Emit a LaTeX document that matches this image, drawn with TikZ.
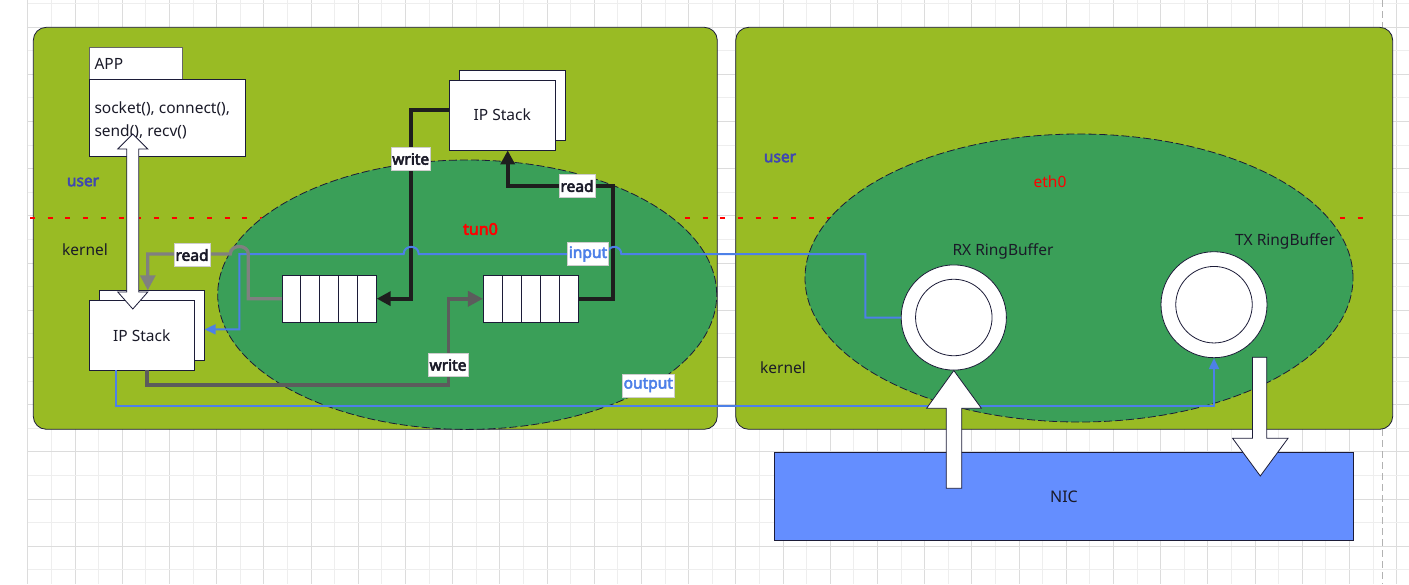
\documentclass[tikz,border=0pt]{standalone}
\usepackage{fontspec}
\setmainfont{Noto Sans}[AutoFakeBold=3.5]
\usetikzlibrary{arrows.meta,shapes.geometric,calc}
\definecolor{panelgreen}{RGB}{153,187,36}
\definecolor{ellgreen}{RGB}{58,159,88}
\definecolor{navy}{RGB}{28,28,56}
\definecolor{linkblue}{RGB}{77,128,232}
\definecolor{userblue}{RGB}{64,72,176}
\definecolor{nicblue}{RGB}{100,142,255}
\definecolor{gridlight}{RGB}{238,238,238}
\definecolor{griddark}{RGB}{220,220,220}
\definecolor{txt}{RGB}{26,26,40}
\definecolor{lblborder}{RGB}{205,205,205}
\definecolor{readgray}{RGB}{128,128,128}
\definecolor{writegray}{RGB}{92,92,92}
\definecolor{blk}{RGB}{30,30,30}
\begin{document}
\begin{tikzpicture}[x=1pt,y=-1pt,
  every node/.style={font=\fontsize{15.5}{18}\selectfont, text=txt},
  panel/.style={draw=navy, fill=panelgreen, rounded corners=13pt, line width=0.8pt},
  ifellipse/.style={ellipse, draw=navy, fill=ellgreen, line width=0.8pt, dash pattern=on 8pt off 3pt, inner sep=0pt},
  wbox/.style={draw=navy, fill=white, line width=0.8pt, inner sep=0pt},
  lbl/.style={fill=white, draw=lblborder, line width=0.4pt, inner xsep=1.5pt, inner ysep=0pt, minimum height=23pt, font=\bfseries\fontsize{15.5}{18}\selectfont},
  blkline/.style={draw=blk, line width=4pt, -{Triangle[length=14pt,width=14pt]}},
  grayread/.style={draw=readgray, line width=3.3pt, -{Triangle[length=15pt,width=15pt]}},
  graywrite/.style={draw=writegray, line width=3.5pt, -{Triangle[length=15pt,width=15pt]}},
  blueline/.style={draw=linkblue, line width=2pt, -{Triangle[length=11pt,width=10pt]}},
  bigarrow/.style={fill=white, draw=navy, line width=0.8pt},
  ring/.style={circle, draw=navy, fill=white, line width=0.8pt, inner sep=0pt}
]
\useasboundingbox (0,0) rectangle (1409,584);
\fill[white] (0,0) rectangle (1409,584);
% grid
\foreach \k in {1,3,...,57} \draw[gridlight, line width=0.8pt] ({27.7+23.6*\k},0) -- ({27.7+23.6*\k},584);
\foreach \k in {0,2,...,58} \draw[griddark, line width=0.8pt] ({27.7+23.6*\k},0) -- ({27.7+23.6*\k},584);
\foreach \k in {0,2,...,24} \draw[gridlight, line width=0.8pt] (27.7,{3.3+23.6*\k}) -- (1409,{3.3+23.6*\k});
\foreach \k in {1,3,...,23} \draw[griddark, line width=0.8pt] (27.7,{3.3+23.6*\k}) -- (1409,{3.3+23.6*\k});
\draw[gray!60, line width=1pt, dash pattern=on 7pt off 4pt] (1382.3,0) -- (1382.3,584);

% panels
\draw[panel] (33.3,27.3) rectangle (717.3,429.3);
\draw[panel] (735.7,27.3) rectangle (1392.7,429.3);
\draw[red, line width=2pt, dash pattern=on 5pt off 12.7pt] (30,218) -- (1366,218);

% ellipses
\node[ifellipse, minimum width=499pt, minimum height=269.4pt] (tun) at (467.2,294.7) {};
\node[ifellipse, minimum width=548pt, minimum height=288pt] (eth) at (1079,278) {};

% plain texts
\node[font=\bfseries\fontsize{15.5}{18}\selectfont, text=userblue] (userL) at (83,182) {user};
\node (kernelL) at (85,250) {kernel};
\node[font=\bfseries\fontsize{16}{18}\selectfont, text=red] (tunlbl) at (480.5,229) {tun0};
\node[text=red] (ethlbl) at (1050,182) {eth0};
\node[font=\bfseries\fontsize{15.5}{18}\selectfont, text=userblue] (userR) at (780,158) {user};
\node (kernelR) at (783,368) {kernel};
\node (rxlbl) at (1003,251) {RX RingBuffer};
\node (txlbl) at (1285,241) {TX RingBuffer};

% APP
\node[wbox, draw=gray!80!black, minimum width=93.4pt, minimum height=31.3pt] (apptab) at (136,63.35) {};
\node[anchor=base west, inner sep=0pt] at (94.3,69.3) {APP};
\node[wbox, minimum width=156pt, minimum height=77pt] (app) at (167,117.5) {};
\node[anchor=base west, inner sep=0pt] at (94.3,113.3) {socket(), connect(),};
\node[anchor=base west, inner sep=0pt] at (94.3,136.7) {send(), recv()};

% IP stacks
\node[wbox, minimum width=105pt, minimum height=69.3pt] (ipLb) at (151.8,325.35) {};
\node[wbox, minimum width=105pt, minimum height=69.3pt] (ipL) at (141.8,335.35) {IP Stack};
\node[wbox, minimum width=106pt, minimum height=70pt] (ipTb) at (512.3,105.3) {};
\node[wbox, minimum width=106pt, minimum height=69.7pt] (ipT) at (502.3,115.15) {IP Stack};

% queues
\node[wbox, minimum width=94pt, minimum height=46.7pt] (qL) at (329.3,298.65) {};
\foreach \i in {1,...,4} \draw[navy, line width=0.8pt] ($(qL.north west)+(18.8*\i,0)$) -- ($(qL.south west)+(18.8*\i,0)$);
\node[wbox, minimum width=95.4pt, minimum height=47pt] (qR) at (531,298.8) {};
\foreach \i in {1,...,4} \draw[navy, line width=0.8pt] ($(qR.north west)+(19.08*\i,0)$) -- ($(qR.south west)+(19.08*\i,0)$);

% ring buffers
\node[ring, minimum size=105.2pt] (rx) at (953.8,317.5) {};
\node[ring, minimum size=76.5pt] (rxin) at (rx.center) {};
\node[ring, minimum size=106pt] (tx) at (1214,304.7) {};
\node[ring, minimum size=76.5pt] (txin) at (tx.center) {};

% black connectors
\draw[blkline] ([yshift=5pt]ipT.west) -| ([xshift=34.4pt]qL.east) -- (qL.east);
\draw[blkline] (qR.east) -| (613.3,186) -| ([xshift=5.4pt]ipT.south);

% blue connectors
\draw[blueline] (rx.west) -| (865.4,254) -- (621.3,254)
   .. controls (621.3,244.5) and (607.3,244.5) .. (607.3,254) -- (418.7,254)
   .. controls (418.7,244.5) and (403.7,244.5) .. (403.7,254) -- (239.3,254)
   |- ([yshift=-4pt]ipLb.east);
\draw[blueline] ([xshift=-25.8pt]ipL.south) |- ($(tx.south)+(0,48)$) -- (tx.south);

% gray connectors
\draw[grayread] (qL.west) -| (248.3,254)
   .. controls (248.3,244) and (230.3,244) .. (230.3,254)
   -| ([xshift=-4pt]ipLb.north);
\draw[graywrite] ([xshift=5pt]ipL.south) |- (448.3,385) |- (qR.west);

% connector labels
\node[lbl] (lread1) at (192,255) {read};
\node[lbl] (lwrite1) at (410.7,159) {write};
\node[lbl] (lread2) at (577,186) {read};
\node[lbl] (lwrite2) at (448,365) {write};
\node[lbl, text=linkblue] (linput) at (588,254) {input};
\node[lbl, text=linkblue] (loutput) at (648.3,385.2) {output};

% NIC
\node[draw=navy, fill=nicblue, line width=0.8pt, minimum width=579pt, minimum height=87.6pt, font=\fontsize{16}{19}\selectfont] (nic) at (1064,496.5) {NIC};

% big arrows
\draw[bigarrow] (132.8,134) -- (147.8,149) -- (138.8,149) -- (138.8,292) -- (147.8,292) -- (132.8,309)
  -- (117.8,292) -- (126.8,292) -- (126.8,149) -- (117.8,149) -- cycle;
\draw[bigarrow] (rx.south) -- (981.4,408.3) -- (961.7,408.3) -- (961.7,488.3) -- (946.3,488.3)
  -- (946.3,408.3) -- (926.6,408.3) -- cycle;
\draw[bigarrow] (1252.5,357.3) -- (1266.7,357.3) -- (1266.7,438.3) -- (1288,438.3) -- (1260.3,476)
  -- (1232.6,438.3) -- (1252.5,438.3) -- cycle;
\end{tikzpicture}
\end{document}
